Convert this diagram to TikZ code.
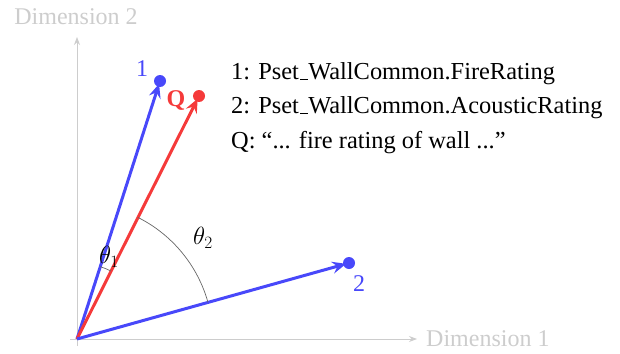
\documentclass[tikz,border=0pt]{standalone}
\usepackage{fontspec}
\setmainfont{Liberation Serif}
\usetikzlibrary{arrows.meta}
\definecolor{vblue}{RGB}{72,72,250}
\definecolor{vred}{RGB}{245,58,58}
\definecolor{axisgrey}{RGB}{205,205,205}
\newcommand\usc{\leavevmode\kern.06em\vbox{\hrule width .32em}}
\begin{document}
\begin{tikzpicture}[x=1pt,y=-1pt,
  txt/.style={font=\fontsize{24}{28}\selectfont, inner sep=0pt},
  legend/.style={font=\fontsize{24.4}{28}\selectfont, inner sep=0pt, anchor=west},
  axisline/.style={axisgrey, line width=1pt, -{Stealth[length=8pt,width=6pt]}},
  vec/.style={line width=3pt, -{Stealth[length=14pt,width=12pt,inset=5pt]}, shorten >=3pt},
  dot/.style={circle, fill, inner sep=0pt, minimum size=12pt},
  arcline/.style={black!60, line width=0.7pt}]
\useasboundingbox (0,0) rectangle (620,353);
\coordinate (O) at (77,339);
\coordinate (xs) at (70,339);
\coordinate (xe) at (417,339);
\coordinate (ys) at (77,346);
\coordinate (ye) at (77,37);
\draw[axisline] (xs) -- (xe);
\draw[axisline] (ys) -- (ye);
\node[txt, text=axisgrey, anchor=west] (d1) at (426,339) {Dimension 1};
\node[txt, text=axisgrey] (d2) at (76,17) {Dimension 2};
\node[dot, vblue] (p1) at (160,81) {};
\node[dot, vred] (pQ) at (199,96) {};
\node[dot, vblue] (p2) at (349,263) {};
\draw[vec, vblue] (O) -- (p1.center);
\draw[vec, vred] (O) -- (pQ.center);
\draw[vec, vblue] (O) -- (p2.center);
\node[txt, text=vblue] (l1) at (142,69) {1};
\node[txt, text=vred, font=\fontsize{24}{28}\selectfont\bfseries] (lQ) at (176,100) {Q};
\node[txt, text=vblue] (l2) at (359,284) {2};
% angle arcs
\draw[arcline] (O) ++(-72.3:76) arc[start angle=-72.3, end angle=-63.4, radius=76];
\draw[arcline] (O) ++(-63.4:136) arc[start angle=-63.4, end angle=-15.6, radius=136];
\node[txt] (t1) at (109,257) {$\theta_1$};
\node[txt] (t2) at (203,238) {$\theta_2$};
% legend
\node[legend] (g1) at (231,74) {1: Pset\usc WallCommon.FireRating};
\node[legend] (g2) at (231,108) {2: Pset\usc WallCommon.AcousticRating};
\node[legend] (g3) at (231,143) {Q: ``... fire rating of wall ...''};
\end{tikzpicture}
\end{document}
